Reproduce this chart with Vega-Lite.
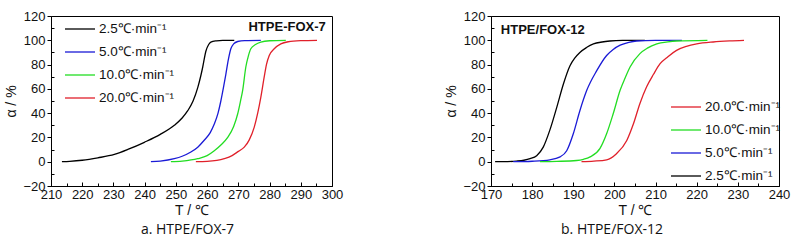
{
  "$schema": "https://vega.github.io/schema/vega-lite/v6.json",
  "background": "white",
  "padding": {"left": 4, "top": 9, "right": 5, "bottom": 4},
  "config": {
    "font": "Liberation Sans Narrow, Liberation Sans",
    "view": {"stroke": "black", "strokeWidth": 1},
    "axis": {
      "grid": false,
      "domainColor": "black",
      "tickColor": "black",
      "labelColor": "#111",
      "labelFontSize": 13,
      "labelFlush": false,
      "labelOverlap": false,
      "titleFontSize": 14,
      "titleFontWeight": "normal",
      "titleColor": "#111"
    },
    "legend": {
      "symbolType": "stroke",
      "symbolSize": 900,
      "symbolStrokeWidth": 1.3,
      "labelFontSize": 13.5,
      "labelColor": "#111",
      "labelOffset": 3,
      "rowPadding": 0,
      "title": null
    },
    "title": {"fontSize": 14, "fontWeight": "normal", "font": "Open Sans", "color": "#111"}
  },
  "datasets": {
    "curves": [
      {"panel": "a", "rate": "2.5℃·min⁻¹", "T": 213.5, "a": 0},
      {"panel": "a", "rate": "2.5℃·min⁻¹", "T": 216, "a": 0.3},
      {"panel": "a", "rate": "2.5℃·min⁻¹", "T": 220, "a": 1.2},
      {"panel": "a", "rate": "2.5℃·min⁻¹", "T": 225, "a": 3.2},
      {"panel": "a", "rate": "2.5℃·min⁻¹", "T": 230.3, "a": 6},
      {"panel": "a", "rate": "2.5℃·min⁻¹", "T": 235, "a": 10.5},
      {"panel": "a", "rate": "2.5℃·min⁻¹", "T": 239.9, "a": 16},
      {"panel": "a", "rate": "2.5℃·min⁻¹", "T": 245, "a": 22.5},
      {"panel": "a", "rate": "2.5℃·min⁻¹", "T": 249.5, "a": 30},
      {"panel": "a", "rate": "2.5℃·min⁻¹", "T": 252, "a": 36},
      {"panel": "a", "rate": "2.5℃·min⁻¹", "T": 253.8, "a": 42},
      {"panel": "a", "rate": "2.5℃·min⁻¹", "T": 255.5, "a": 50},
      {"panel": "a", "rate": "2.5℃·min⁻¹", "T": 257, "a": 61},
      {"panel": "a", "rate": "2.5℃·min⁻¹", "T": 258, "a": 71},
      {"panel": "a", "rate": "2.5℃·min⁻¹", "T": 258.6, "a": 78},
      {"panel": "a", "rate": "2.5℃·min⁻¹", "T": 259.6, "a": 91},
      {"panel": "a", "rate": "2.5℃·min⁻¹", "T": 260.5, "a": 96.5},
      {"panel": "a", "rate": "2.5℃·min⁻¹", "T": 261.2, "a": 98.5},
      {"panel": "a", "rate": "2.5℃·min⁻¹", "T": 263, "a": 99.6},
      {"panel": "a", "rate": "2.5℃·min⁻¹", "T": 265, "a": 100},
      {"panel": "a", "rate": "2.5℃·min⁻¹", "T": 268.7, "a": 100},
      {"panel": "a", "rate": "5.0℃·min⁻¹", "T": 242, "a": 0},
      {"panel": "a", "rate": "5.0℃·min⁻¹", "T": 245, "a": 0.5},
      {"panel": "a", "rate": "5.0℃·min⁻¹", "T": 249.5, "a": 2.5},
      {"panel": "a", "rate": "5.0℃·min⁻¹", "T": 252, "a": 4.5},
      {"panel": "a", "rate": "5.0℃·min⁻¹", "T": 254.8, "a": 8},
      {"panel": "a", "rate": "5.0℃·min⁻¹", "T": 257, "a": 12},
      {"panel": "a", "rate": "5.0℃·min⁻¹", "T": 259, "a": 17.5},
      {"panel": "a", "rate": "5.0℃·min⁻¹", "T": 261, "a": 24},
      {"panel": "a", "rate": "5.0℃·min⁻¹", "T": 262.3, "a": 31},
      {"panel": "a", "rate": "5.0℃·min⁻¹", "T": 263.5, "a": 40},
      {"panel": "a", "rate": "5.0℃·min⁻¹", "T": 264.4, "a": 50},
      {"panel": "a", "rate": "5.0℃·min⁻¹", "T": 265.3, "a": 62},
      {"panel": "a", "rate": "5.0℃·min⁻¹", "T": 266, "a": 72},
      {"panel": "a", "rate": "5.0℃·min⁻¹", "T": 266.8, "a": 84},
      {"panel": "a", "rate": "5.0℃·min⁻¹", "T": 267.6, "a": 93},
      {"panel": "a", "rate": "5.0℃·min⁻¹", "T": 268.5, "a": 97},
      {"panel": "a", "rate": "5.0℃·min⁻¹", "T": 269.8, "a": 99},
      {"panel": "a", "rate": "5.0℃·min⁻¹", "T": 272, "a": 99.8},
      {"panel": "a", "rate": "5.0℃·min⁻¹", "T": 277.2, "a": 100},
      {"panel": "a", "rate": "10.0℃·min⁻¹", "T": 248.4, "a": 0},
      {"panel": "a", "rate": "10.0℃·min⁻¹", "T": 252, "a": 0.5},
      {"panel": "a", "rate": "10.0℃·min⁻¹", "T": 257, "a": 2.5},
      {"panel": "a", "rate": "10.0℃·min⁻¹", "T": 260, "a": 5},
      {"panel": "a", "rate": "10.0℃·min⁻¹", "T": 262.3, "a": 9},
      {"panel": "a", "rate": "10.0℃·min⁻¹", "T": 264.5, "a": 14},
      {"panel": "a", "rate": "10.0℃·min⁻¹", "T": 266.6, "a": 20},
      {"panel": "a", "rate": "10.0℃·min⁻¹", "T": 268.5, "a": 29},
      {"panel": "a", "rate": "10.0℃·min⁻¹", "T": 269.8, "a": 39.5},
      {"panel": "a", "rate": "10.0℃·min⁻¹", "T": 270.7, "a": 50},
      {"panel": "a", "rate": "10.0℃·min⁻¹", "T": 271.4, "a": 59},
      {"panel": "a", "rate": "10.0℃·min⁻¹", "T": 272.4, "a": 78},
      {"panel": "a", "rate": "10.0℃·min⁻¹", "T": 273.2, "a": 87},
      {"panel": "a", "rate": "10.0℃·min⁻¹", "T": 274, "a": 93},
      {"panel": "a", "rate": "10.0℃·min⁻¹", "T": 275.5, "a": 96.5},
      {"panel": "a", "rate": "10.0℃·min⁻¹", "T": 277.2, "a": 98.5},
      {"panel": "a", "rate": "10.0℃·min⁻¹", "T": 280, "a": 99.6},
      {"panel": "a", "rate": "10.0℃·min⁻¹", "T": 285.2, "a": 100},
      {"panel": "a", "rate": "20.0℃·min⁻¹", "T": 256.4, "a": 0},
      {"panel": "a", "rate": "20.0℃·min⁻¹", "T": 260, "a": 0.3},
      {"panel": "a", "rate": "20.0℃·min⁻¹", "T": 265.5, "a": 2.5},
      {"panel": "a", "rate": "20.0℃·min⁻¹", "T": 268, "a": 5},
      {"panel": "a", "rate": "20.0℃·min⁻¹", "T": 270, "a": 8.5},
      {"panel": "a", "rate": "20.0℃·min⁻¹", "T": 271.9, "a": 12},
      {"panel": "a", "rate": "20.0℃·min⁻¹", "T": 273.5, "a": 18},
      {"panel": "a", "rate": "20.0℃·min⁻¹", "T": 275.1, "a": 28.5},
      {"panel": "a", "rate": "20.0℃·min⁻¹", "T": 276.2, "a": 40},
      {"panel": "a", "rate": "20.0℃·min⁻¹", "T": 277.2, "a": 53},
      {"panel": "a", "rate": "20.0℃·min⁻¹", "T": 278.3, "a": 70},
      {"panel": "a", "rate": "20.0℃·min⁻¹", "T": 279, "a": 80},
      {"panel": "a", "rate": "20.0℃·min⁻¹", "T": 279.9, "a": 87.5},
      {"panel": "a", "rate": "20.0℃·min⁻¹", "T": 281.5, "a": 93},
      {"panel": "a", "rate": "20.0℃·min⁻¹", "T": 283.6, "a": 97},
      {"panel": "a", "rate": "20.0℃·min⁻¹", "T": 286, "a": 98.8},
      {"panel": "a", "rate": "20.0℃·min⁻¹", "T": 290, "a": 99.7},
      {"panel": "a", "rate": "20.0℃·min⁻¹", "T": 295.2, "a": 100},
      {"panel": "b", "rate": "2.5℃·min⁻¹", "T": 171, "a": 0},
      {"panel": "b", "rate": "2.5℃·min⁻¹", "T": 174, "a": 0.1},
      {"panel": "b", "rate": "2.5℃·min⁻¹", "T": 176.2, "a": 0.5},
      {"panel": "b", "rate": "2.5℃·min⁻¹", "T": 178, "a": 1.2},
      {"panel": "b", "rate": "2.5℃·min⁻¹", "T": 179.5, "a": 2.5},
      {"panel": "b", "rate": "2.5℃·min⁻¹", "T": 181.1, "a": 5},
      {"panel": "b", "rate": "2.5℃·min⁻¹", "T": 182.7, "a": 12},
      {"panel": "b", "rate": "2.5℃·min⁻¹", "T": 184.3, "a": 26},
      {"panel": "b", "rate": "2.5℃·min⁻¹", "T": 186, "a": 45},
      {"panel": "b", "rate": "2.5℃·min⁻¹", "T": 187.6, "a": 64},
      {"panel": "b", "rate": "2.5℃·min⁻¹", "T": 189.2, "a": 79},
      {"panel": "b", "rate": "2.5℃·min⁻¹", "T": 190.4, "a": 85.5},
      {"panel": "b", "rate": "2.5℃·min⁻¹", "T": 191.6, "a": 90},
      {"panel": "b", "rate": "2.5℃·min⁻¹", "T": 193.2, "a": 94},
      {"panel": "b", "rate": "2.5℃·min⁻¹", "T": 194.9, "a": 97},
      {"panel": "b", "rate": "2.5℃·min⁻¹", "T": 197, "a": 98.6},
      {"panel": "b", "rate": "2.5℃·min⁻¹", "T": 198.9, "a": 99.4},
      {"panel": "b", "rate": "2.5℃·min⁻¹", "T": 202, "a": 99.9},
      {"panel": "b", "rate": "2.5℃·min⁻¹", "T": 207.4, "a": 100},
      {"panel": "b", "rate": "5.0℃·min⁻¹", "T": 175.4, "a": 0},
      {"panel": "b", "rate": "5.0℃·min⁻¹", "T": 180, "a": 0.4},
      {"panel": "b", "rate": "5.0℃·min⁻¹", "T": 184.3, "a": 1.6},
      {"panel": "b", "rate": "5.0℃·min⁻¹", "T": 186.8, "a": 4},
      {"panel": "b", "rate": "5.0℃·min⁻¹", "T": 188.4, "a": 9},
      {"panel": "b", "rate": "5.0℃·min⁻¹", "T": 190, "a": 23},
      {"panel": "b", "rate": "5.0℃·min⁻¹", "T": 191.6, "a": 42},
      {"panel": "b", "rate": "5.0℃·min⁻¹", "T": 193.3, "a": 59},
      {"panel": "b", "rate": "5.0℃·min⁻¹", "T": 195.7, "a": 75},
      {"panel": "b", "rate": "5.0℃·min⁻¹", "T": 198.1, "a": 87.5},
      {"panel": "b", "rate": "5.0℃·min⁻¹", "T": 199.7, "a": 92.5},
      {"panel": "b", "rate": "5.0℃·min⁻¹", "T": 201.4, "a": 96},
      {"panel": "b", "rate": "5.0℃·min⁻¹", "T": 203.5, "a": 98.3},
      {"panel": "b", "rate": "5.0℃·min⁻¹", "T": 205.4, "a": 99.4},
      {"panel": "b", "rate": "5.0℃·min⁻¹", "T": 210, "a": 99.9},
      {"panel": "b", "rate": "5.0℃·min⁻¹", "T": 216.4, "a": 100},
      {"panel": "b", "rate": "10.0℃·min⁻¹", "T": 181.9, "a": 0},
      {"panel": "b", "rate": "10.0℃·min⁻¹", "T": 186, "a": 0.3},
      {"panel": "b", "rate": "10.0℃·min⁻¹", "T": 190.8, "a": 1},
      {"panel": "b", "rate": "10.0℃·min⁻¹", "T": 192.5, "a": 2},
      {"panel": "b", "rate": "10.0℃·min⁻¹", "T": 194.1, "a": 4},
      {"panel": "b", "rate": "10.0℃·min⁻¹", "T": 196.5, "a": 11},
      {"panel": "b", "rate": "10.0℃·min⁻¹", "T": 198.1, "a": 23},
      {"panel": "b", "rate": "10.0℃·min⁻¹", "T": 199.7, "a": 39.5},
      {"panel": "b", "rate": "10.0℃·min⁻¹", "T": 201.4, "a": 59},
      {"panel": "b", "rate": "10.0℃·min⁻¹", "T": 202.6, "a": 69},
      {"panel": "b", "rate": "10.0℃·min⁻¹", "T": 203.8, "a": 78},
      {"panel": "b", "rate": "10.0℃·min⁻¹", "T": 206.2, "a": 89},
      {"panel": "b", "rate": "10.0℃·min⁻¹", "T": 208, "a": 93.5},
      {"panel": "b", "rate": "10.0℃·min⁻¹", "T": 210.3, "a": 97},
      {"panel": "b", "rate": "10.0℃·min⁻¹", "T": 213, "a": 98.7},
      {"panel": "b", "rate": "10.0℃·min⁻¹", "T": 215.1, "a": 99.4},
      {"panel": "b", "rate": "10.0℃·min⁻¹", "T": 222.6, "a": 100},
      {"panel": "b", "rate": "20.0℃·min⁻¹", "T": 192, "a": 0},
      {"panel": "b", "rate": "20.0℃·min⁻¹", "T": 195, "a": 0.5},
      {"panel": "b", "rate": "20.0℃·min⁻¹", "T": 198.1, "a": 1.6},
      {"panel": "b", "rate": "20.0℃·min⁻¹", "T": 200.5, "a": 6.6},
      {"panel": "b", "rate": "20.0℃·min⁻¹", "T": 203, "a": 17.5},
      {"panel": "b", "rate": "20.0℃·min⁻¹", "T": 204.6, "a": 31},
      {"panel": "b", "rate": "20.0℃·min⁻¹", "T": 206.2, "a": 48},
      {"panel": "b", "rate": "20.0℃·min⁻¹", "T": 207.8, "a": 61.5},
      {"panel": "b", "rate": "20.0℃·min⁻¹", "T": 209.5, "a": 72},
      {"panel": "b", "rate": "20.0℃·min⁻¹", "T": 211.1, "a": 80.7},
      {"panel": "b", "rate": "20.0℃·min⁻¹", "T": 213, "a": 86.5},
      {"panel": "b", "rate": "20.0℃·min⁻¹", "T": 215.1, "a": 91.7},
      {"panel": "b", "rate": "20.0℃·min⁻¹", "T": 217.5, "a": 95},
      {"panel": "b", "rate": "20.0℃·min⁻¹", "T": 220, "a": 97},
      {"panel": "b", "rate": "20.0℃·min⁻¹", "T": 224, "a": 98.6},
      {"panel": "b", "rate": "20.0℃·min⁻¹", "T": 228, "a": 99.5},
      {"panel": "b", "rate": "20.0℃·min⁻¹", "T": 231.5, "a": 100}
    ],
    "notes": [
      {"panel": "a", "T": 298, "a": 111, "label": "HTPE-FOX-7"},
      {"panel": "b", "T": 172.4, "a": 108.5, "label": "HTPE/FOX-12"}
    ]
  },
  "spacing": 100,
  "resolve": {"scale": {"color": "independent"}},
  "hconcat": [
    {
      "width": 281,
      "height": 170,
      "title": {"text": "a.  HTPE/FOX-7", "orient": "bottom", "offset": 6, "dx": -4},
      "resolve": {"axis": {"x": "independent", "y": "independent"}},
      "layer": [
        {
          "data": {"name": "curves"},
          "transform": [{"filter": "datum.panel === 'a'"}],
          "mark": {"type": "line", "interpolate": "monotone", "strokeWidth": 1.3},
          "encoding": {
            "x": {"field": "T", "type": "quantitative",
              "scale": {"domain": [210, 300], "nice": false, "zero": false},
              "axis": {"title": "T / ℃", "titlePadding": 2, "orient": "bottom",
                "values": [210,220,230,240,250,260,270,280,290,300],
                "tickSize": -4, "labelPadding": 6}},
            "y": {"field": "a", "type": "quantitative",
              "scale": {"domain": [-20, 120], "nice": false, "zero": false},
              "axis": {"title": "α / %", "titlePadding": 4, "orient": "left",
                "values": [-20,0,20,40,60,80,100,120],
                "tickSize": 4, "labelPadding": 2}},
            "color": {"field": "rate", "type": "nominal",
              "scale": {"domain": ["2.5℃·min⁻¹", "5.0℃·min⁻¹", "10.0℃·min⁻¹", "20.0℃·min⁻¹"],
                "range": ["#000000", "#1a1ad6", "#22dd22", "#e0202a"]},
              "legend": {"orient": "none", "legendX": 13, "legendY": -3}}
          }
        },
        {
          "data": {"name": "notes"},
          "transform": [{"filter": "datum.panel === 'a'"}],
          "mark": {"type": "text", "align": "right", "baseline": "middle", "fontWeight": "bold", "fontSize": 13, "color": "#111", "font": "Liberation Sans"},
          "encoding": {
            "x": {"field": "T", "type": "quantitative",
              "axis": {"orient": "bottom", "title": null, "labels": false, "domain": false, "tickSize": -3,
                "values": [215,225,235,245,255,265,275,285,295]}},
            "y": {"field": "a", "type": "quantitative",
              "axis": {"orient": "left", "title": null, "labels": false, "domain": false, "tickSize": -3,
                "values": [-10,10,30,50,70,90,110]}},
            "text": {"field": "label"}
          }
        }
      ]
    },
    {
      "width": 288,
      "height": 170,
      "title": {"text": "b.  HTPE/FOX-12", "orient": "bottom", "offset": 6, "dx": -23},
      "resolve": {"axis": {"x": "independent", "y": "independent"}},
      "layer": [
        {
          "data": {"name": "curves"},
          "transform": [{"filter": "datum.panel === 'b'"}],
          "mark": {"type": "line", "interpolate": "monotone", "strokeWidth": 1.3},
          "encoding": {
            "x": {"field": "T", "type": "quantitative",
              "scale": {"domain": [170, 240], "nice": false, "zero": false},
              "axis": {"title": "T / ℃", "titlePadding": 2, "orient": "bottom",
                "values": [170,180,190,200,210,220,230,240],
                "tickSize": -4, "labelPadding": 6}},
            "y": {"field": "a", "type": "quantitative",
              "scale": {"domain": [-20, 120], "nice": false, "zero": false},
              "axis": {"title": "α / %", "titlePadding": 4, "orient": "left",
                "values": [-20,0,20,40,60,80,100,120],
                "tickSize": 4, "labelPadding": 2}},
            "color": {"field": "rate", "type": "nominal",
              "scale": {"domain": ["20.0℃·min⁻¹", "10.0℃·min⁻¹", "5.0℃·min⁻¹", "2.5℃·min⁻¹"],
                "range": ["#e0202a", "#22dd22", "#1a1ad6", "#000000"]},
              "legend": {"orient": "none", "legendX": 179, "legendY": 75}}
          }
        },
        {
          "data": {"name": "notes"},
          "transform": [{"filter": "datum.panel === 'b'"}],
          "mark": {"type": "text", "align": "left", "baseline": "middle", "fontWeight": "bold", "fontSize": 13, "color": "#111", "font": "Liberation Sans"},
          "encoding": {
            "x": {"field": "T", "type": "quantitative",
              "axis": {"orient": "bottom", "title": null, "labels": false, "domain": false, "tickSize": -3,
                "values": [175,185,195,205,215,225,235]}},
            "y": {"field": "a", "type": "quantitative",
              "axis": {"orient": "left", "title": null, "labels": false, "domain": false, "tickSize": -3,
                "values": [-10,10,30,50,70,90,110]}},
            "text": {"field": "label"}
          }
        }
      ]
    }
  ]
}
